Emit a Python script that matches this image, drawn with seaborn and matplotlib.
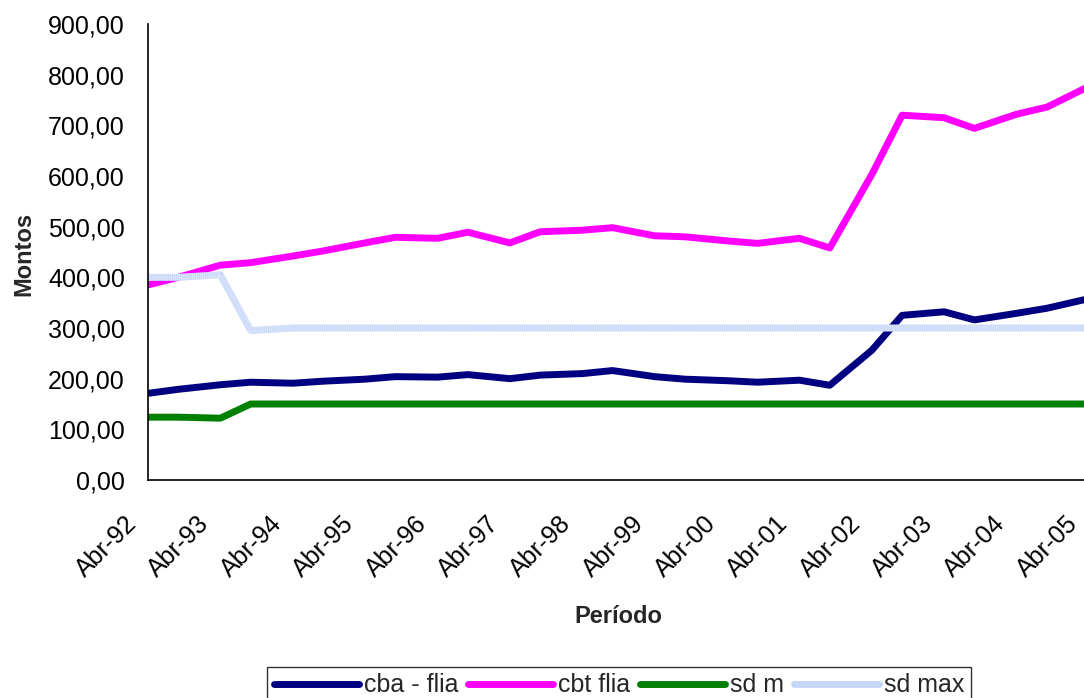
import pandas as pd
import numpy as np
import matplotlib
matplotlib.use("Agg")
import matplotlib.pyplot as plt
import matplotlib.transforms as mtrans
from matplotlib.lines import Line2D
import seaborn as sns

# ------------------------------------------------------------
# Data - points in Abr and Sep
# ------------------------------------------------------------
fechas = ["1992-04", "1992-09", "1993-04", "1993-09", "1994-04", "1994-09",
          "1995-04", "1995-09", "1996-04", "1996-09", "1997-04", "1997-09",
          "1998-04", "1998-09", "1999-04", "1999-09", "2000-04", "2000-09",
          "2001-04", "2001-09", "2002-04", "2002-09", "2003-04", "2003-09",
          "2004-04", "2004-09", "2005-04"]

cba_flia = [171, 179, 188, 193, 191, 195, 199, 204, 203, 208, 200, 207, 210, 216,
            204, 199, 196, 193, 197, 187, 256, 325, 332, 316, 329, 339, 358]
cbt_flia = [385, 400, 424, 429, 442, 452, 468, 479, 477, 489, 468, 490, 493, 498,
            482, 480, 472, 467, 477, 458, 603, 720, 715, 694, 722, 736, 777]
sd_m = [124, 124, 122, 150, 150, 150, 150, 150, 150, 150, 150, 150, 150, 150,
        150, 150, 150, 150, 150, 150, 150, 150, 150, 150, 150, 150, 150]
sd_max = [400, 400, 405, 295, 300, 300, 300, 300, 300, 300, 300, 300, 300, 300,
          300, 300, 300, 300, 300, 300, 300, 300, 300, 300, 300, 300, 300]

series_names = ["cba - flia", "cbt flia", "sd m", "sd max"]
series_colors = ["#000080", "#FF00FF", "#008000", "#C6D6F9"]

tick_dates = ["1992-04", "1993-04", "1994-04", "1995-04", "1996-04", "1997-04",
              "1998-04", "1999-04", "2000-04", "2001-04", "2002-04", "2003-04",
              "2004-04", "2005-04"]
tick_labels = ["Abr-92", "Abr-93", "Abr-94", "Abr-95", "Abr-96", "Abr-97", "Abr-98",
               "Abr-99", "Abr-00", "Abr-01", "Abr-02", "Abr-03", "Abr-04", "Abr-05"]
y_ticks = [0, 100, 200, 300, 400, 500, 600, 700, 800, 900]

# long format table for seaborn
df = pd.DataFrame({
    "Periodo": pd.to_datetime(fechas * 4),
    "Monto": cba_flia + cbt_flia + sd_m + sd_max,
    "Serie": sum([[n] * len(fechas) for n in series_names], []),
})

# ------------------------------------------------------------
# Plot
# ------------------------------------------------------------
sns.set_style("white")
plt.rcParams["font.family"] = ["Liberation Sans", "DejaVu Sans"]

fig = plt.figure(figsize=(10.84, 6.98), dpi=100)
ax = fig.add_axes([148 / 1084, 218 / 698, 941 / 1084, 456 / 698])

sns.lineplot(data=df, x="Periodo", y="Monto", hue="Serie",
             hue_order=series_names, palette=series_colors,
             linewidth=5, ax=ax, legend=False)
for line in ax.get_lines():
    line.set_solid_capstyle("round")
    line.set_solid_joinstyle("round")

# striped look of the "sd max" line (Excel pattern)
stripes = df[df["Serie"] == "sd max"]
sns.lineplot(data=stripes, x="Periodo", y="Monto", color="white", alpha=0.45,
             linewidth=5, linestyle=(0, (0.15, 0.15)), ax=ax, legend=False)

ax.set_ylim(0, 900)
ax.set_xlim(pd.Timestamp(tick_dates[0]), pd.Timestamp(tick_dates[-1]))
ax.set_yticks(y_ticks)
ax.set_yticklabels([f"{v:.2f}".replace(".", ",") for v in y_ticks])
ax.set_xticks(pd.to_datetime(tick_dates))
ax.set_xticklabels(tick_labels, rotation=45, ha="right", va="center",
                   rotation_mode="anchor")

ax.tick_params(axis="both", direction="inout", length=16, width=1.2,
               color="#333333", labelsize=18, labelcolor="black")
ax.tick_params(axis="y", pad=8.6)
ax.tick_params(axis="x", pad=21)

# Excel puts the rotated labels a bit left of their tick
shift = mtrans.ScaledTranslation(-0.15, 0, fig.dpi_scale_trans)
for lab in ax.get_xticklabels():
    lab.set_transform(lab.get_transform() + shift)

for side in ["top", "right"]:
    ax.spines[side].set_visible(False)
for side in ["left", "bottom"]:
    ax.spines[side].set_color("black")
    ax.spines[side].set_linewidth(1.2)

ax.set_xlabel("Período", fontsize=17, fontweight="bold")
ax.set_ylabel("Montos", fontsize=17, fontweight="bold")
ax.xaxis.set_label_coords(0.5, -0.275)
ax.yaxis.set_label_coords(-0.12, 0.496)

# legend
handles = [Line2D([0], [0], color=c, lw=5, solid_capstyle="round")
           for c in series_colors]
leg = fig.legend(handles, series_names, loc="upper center", ncol=4,
                 bbox_to_anchor=(619 / 1084, 1 - 667 / 698),
                 frameon=True, fancybox=False, edgecolor="black",
                 handlelength=3.4, handletextpad=0.2, columnspacing=0.4,
                 borderpad=0.25, borderaxespad=0,
                 prop={"size": 18})
leg.get_frame().set_linewidth(1.0)

fig.savefig("out.png", dpi=100, facecolor="white")
